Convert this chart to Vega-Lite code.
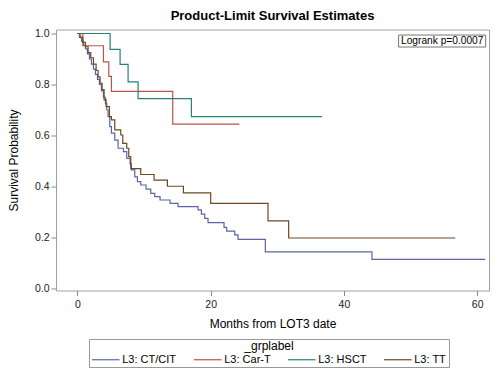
{
  "$schema": "https://vega.github.io/schema/vega-lite/v6.json",
  "width": 433,
  "height": 261,
  "autosize": {"type": "none"},
  "padding": {"left": 56, "top": 29.5, "right": 11, "bottom": 86.5},
  "background": "white",
  "title": {"text": "Product-Limit Survival Estimates", "fontSize": 13, "fontWeight": "bold", "font": "Liberation Sans", "color": "#000", "offset": 6, "anchor": "middle"},
  "config": {"view": {"stroke": "#a0a0a0", "strokeWidth": 1}, "font": "Liberation Sans"},
  "layer": [
    {
      "data": {"values": [
        {"group": "L3: CT/CIT", "month": 0, "surv": 1.0},
        {"group": "L3: CT/CIT", "month": 0.3, "surv": 0.985},
        {"group": "L3: CT/CIT", "month": 0.6, "surv": 0.97},
        {"group": "L3: CT/CIT", "month": 0.9, "surv": 0.955},
        {"group": "L3: CT/CIT", "month": 1.2, "surv": 0.94},
        {"group": "L3: CT/CIT", "month": 1.5, "surv": 0.92},
        {"group": "L3: CT/CIT", "month": 1.8, "surv": 0.9},
        {"group": "L3: CT/CIT", "month": 2.1, "surv": 0.88},
        {"group": "L3: CT/CIT", "month": 2.4, "surv": 0.86},
        {"group": "L3: CT/CIT", "month": 2.7, "surv": 0.84},
        {"group": "L3: CT/CIT", "month": 3.0, "surv": 0.82},
        {"group": "L3: CT/CIT", "month": 3.3, "surv": 0.8},
        {"group": "L3: CT/CIT", "month": 3.6, "surv": 0.775},
        {"group": "L3: CT/CIT", "month": 3.9, "surv": 0.75},
        {"group": "L3: CT/CIT", "month": 4.2, "surv": 0.725},
        {"group": "L3: CT/CIT", "month": 4.4, "surv": 0.7},
        {"group": "L3: CT/CIT", "month": 4.6, "surv": 0.674},
        {"group": "L3: CT/CIT", "month": 4.85, "surv": 0.635},
        {"group": "L3: CT/CIT", "month": 5.1, "surv": 0.609},
        {"group": "L3: CT/CIT", "month": 5.6, "surv": 0.582},
        {"group": "L3: CT/CIT", "month": 6.1, "surv": 0.55},
        {"group": "L3: CT/CIT", "month": 6.9, "surv": 0.537},
        {"group": "L3: CT/CIT", "month": 7.4, "surv": 0.51},
        {"group": "L3: CT/CIT", "month": 7.9, "surv": 0.49},
        {"group": "L3: CT/CIT", "month": 8.1, "surv": 0.465},
        {"group": "L3: CT/CIT", "month": 8.6, "surv": 0.438},
        {"group": "L3: CT/CIT", "month": 9.0, "surv": 0.419},
        {"group": "L3: CT/CIT", "month": 9.5, "surv": 0.406},
        {"group": "L3: CT/CIT", "month": 10.3, "surv": 0.39},
        {"group": "L3: CT/CIT", "month": 11.0, "surv": 0.373},
        {"group": "L3: CT/CIT", "month": 11.6, "surv": 0.36},
        {"group": "L3: CT/CIT", "month": 12.4, "surv": 0.347},
        {"group": "L3: CT/CIT", "month": 13.9, "surv": 0.334},
        {"group": "L3: CT/CIT", "month": 15.1, "surv": 0.321},
        {"group": "L3: CT/CIT", "month": 18.1, "surv": 0.308},
        {"group": "L3: CT/CIT", "month": 18.6, "surv": 0.292},
        {"group": "L3: CT/CIT", "month": 19.1, "surv": 0.275},
        {"group": "L3: CT/CIT", "month": 19.6, "surv": 0.258},
        {"group": "L3: CT/CIT", "month": 22.0, "surv": 0.24},
        {"group": "L3: CT/CIT", "month": 22.4, "surv": 0.225},
        {"group": "L3: CT/CIT", "month": 23.6, "surv": 0.21},
        {"group": "L3: CT/CIT", "month": 24.1, "surv": 0.193},
        {"group": "L3: CT/CIT", "month": 28.2, "surv": 0.144},
        {"group": "L3: CT/CIT", "month": 44.2, "surv": 0.114},
        {"group": "L3: CT/CIT", "month": 61.2, "surv": 0.114},
        {"group": "L3: Car-T", "month": 0, "surv": 1.0},
        {"group": "L3: Car-T", "month": 0.8, "surv": 0.952},
        {"group": "L3: Car-T", "month": 3.9, "surv": 0.889},
        {"group": "L3: Car-T", "month": 4.7, "surv": 0.832},
        {"group": "L3: Car-T", "month": 5.1, "surv": 0.773},
        {"group": "L3: Car-T", "month": 14.3, "surv": 0.645},
        {"group": "L3: Car-T", "month": 24.3, "surv": 0.645},
        {"group": "L3: HSCT", "month": 0, "surv": 1.0},
        {"group": "L3: HSCT", "month": 4.9, "surv": 0.938},
        {"group": "L3: HSCT", "month": 6.4, "surv": 0.879},
        {"group": "L3: HSCT", "month": 7.6, "surv": 0.81},
        {"group": "L3: HSCT", "month": 9.1, "surv": 0.745},
        {"group": "L3: HSCT", "month": 17.1, "surv": 0.674},
        {"group": "L3: HSCT", "month": 36.7, "surv": 0.674},
        {"group": "L3: TT", "month": 0, "surv": 1.0},
        {"group": "L3: TT", "month": 0.4, "surv": 0.985},
        {"group": "L3: TT", "month": 0.8, "surv": 0.965},
        {"group": "L3: TT", "month": 1.2, "surv": 0.948},
        {"group": "L3: TT", "month": 1.6, "surv": 0.925},
        {"group": "L3: TT", "month": 2.0, "surv": 0.905},
        {"group": "L3: TT", "month": 2.4, "surv": 0.88},
        {"group": "L3: TT", "month": 2.8, "surv": 0.855},
        {"group": "L3: TT", "month": 3.1, "surv": 0.83},
        {"group": "L3: TT", "month": 3.4, "surv": 0.805},
        {"group": "L3: TT", "month": 3.7, "surv": 0.78},
        {"group": "L3: TT", "month": 4.0, "surv": 0.74},
        {"group": "L3: TT", "month": 4.3, "surv": 0.713},
        {"group": "L3: TT", "month": 4.8, "surv": 0.674},
        {"group": "L3: TT", "month": 5.1, "surv": 0.661},
        {"group": "L3: TT", "month": 5.6, "surv": 0.622},
        {"group": "L3: TT", "month": 6.5, "surv": 0.602},
        {"group": "L3: TT", "month": 6.8, "surv": 0.569},
        {"group": "L3: TT", "month": 7.4, "surv": 0.55},
        {"group": "L3: TT", "month": 7.7, "surv": 0.517},
        {"group": "L3: TT", "month": 8.0, "surv": 0.47},
        {"group": "L3: TT", "month": 9.5, "surv": 0.447},
        {"group": "L3: TT", "month": 11.5, "surv": 0.425},
        {"group": "L3: TT", "month": 13.5, "surv": 0.401},
        {"group": "L3: TT", "month": 15.9, "surv": 0.375},
        {"group": "L3: TT", "month": 20.0, "surv": 0.334},
        {"group": "L3: TT", "month": 28.6, "surv": 0.265},
        {"group": "L3: TT", "month": 31.7, "surv": 0.198},
        {"group": "L3: TT", "month": 56.7, "surv": 0.198}
      ]},
      "mark": {"type": "line", "interpolate": "step-after", "strokeWidth": 1.2},
      "encoding": {
        "x": {"field": "month", "type": "quantitative",
          "scale": {"domain": [-3.22, 61.77], "nice": false, "zero": false},
          "axis": {"values": [0, 20, 40, 60], "title": "Months from LOT3 date", "grid": false, "domain": false,
            "tickSize": 5, "tickColor": "#888", "labelFontSize": 10.5, "labelColor": "#222", "labelPadding": 4,
            "titleFontSize": 12, "titleFontWeight": "normal", "titleColor": "#000", "titlePadding": 8, "labelFont": "Liberation Sans", "titleFont": "Liberation Sans"}},
        "y": {"field": "surv", "type": "quantitative",
          "scale": {"domain": [-0.0078, 1.0157], "nice": false, "zero": false},
          "axis": {"values": [0, 0.2, 0.4, 0.6, 0.8, 1.0], "format": ".1f", "title": "Survival Probability", "grid": false, "domain": false,
            "tickSize": 5, "tickColor": "#888", "labelFontSize": 10.5, "labelColor": "#222", "labelPadding": 2,
            "titleFontSize": 12, "titleFontWeight": "normal", "titleColor": "#000", "titlePadding": 14, "labelFont": "Liberation Sans", "titleFont": "Liberation Sans"}},
        "color": {"field": "group", "type": "nominal",
          "scale": {"domain": ["L3: CT/CIT", "L3: Car-T", "L3: HSCT", "L3: TT"], "range": ["#5b65a8", "#b5554b", "#2a7f78", "#6b4a22"]},
          "legend": {"orient": "none", "legendX": 33, "legendY": 309.5, "direction": "horizontal", "title": "_grplabel", "titleAnchor": "middle",
            "titleFontWeight": "normal", "titleFontSize": 12, "titleColor": "#000", "titlePadding": 0,
            "labelFontSize": 11, "labelColor": "#000", "labelOffset": 10, "columnPadding": 14,
            "symbolType": "M-2.5,0H2.5", "symbolSize": 121, "symbolOffset": 8.25, "symbolStrokeWidth": 1.2,
            "strokeColor": "#999", "padding": 2, "labelFont": "Liberation Sans", "titleFont": "Liberation Sans"}}
      }
    },
    {
      "data": {"values": [{}]},
      "mark": {"type": "rect", "fill": "white", "stroke": "#777", "strokeWidth": 1},
      "encoding": {"x": {"datum": 48.2}, "x2": {"datum": 61.27}, "y": {"datum": 0.994}, "y2": {"datum": 0.947}}
    },
    {
      "data": {"values": [{}]},
      "mark": {"type": "text", "fontSize": 10.2, "font": "Liberation Sans", "fill": "#000", "align": "center", "baseline": "middle"},
      "encoding": {"x": {"datum": 54.75}, "y": {"datum": 0.971}, "text": {"value": "Logrank p=0.0007"}}
    }
  ]
}
